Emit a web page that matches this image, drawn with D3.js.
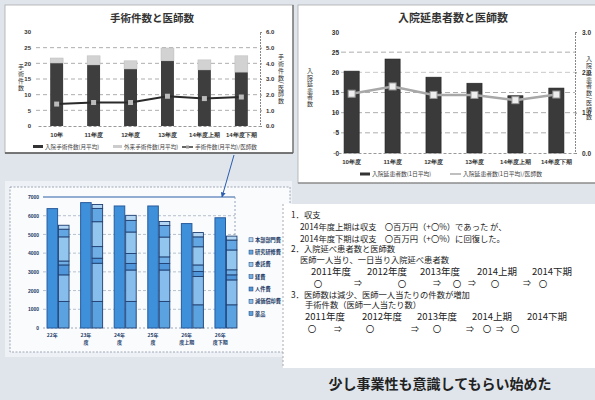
<!DOCTYPE html>
<html><head><meta charset="utf-8">
<script src="https://cdn.jsdelivr.net/npm/d3@7"></script>
<style>
html,body{margin:0;padding:0;background:#dfe5eb;}
svg{display:block;font-family:"Noto Sans CJK JP","Noto Sans",sans-serif;}
</style></head><body>
<svg id="c" width="595" height="400"></svg>
<script>
// ---------- Chart 1: 手術件数と医師数 ----------
const surgCats = ["10年","11年度","12年度","13年度","14年度上期","14年度下期"];
const inpatientSurg = [20.1,19.5,18.2,20.8,17.9,17.2];
const outpatientSurg = [1.6,2.9,2.6,4.1,3.2,5.2];
const surgPerDoctor = [1.4,1.5,1.5,1.9,1.75,1.85];
const surgLeftTicks = [0,5,10,15,20,25,30];
const surgRightTicks = [0,1,2,3,4,5,6];
const surgLegend = ["入院手術件数(月平均)","外来手術件数(月平均)","手術件数(月平均)/医師数"];

// ---------- Chart 2: 入院延患者数と医師数 ----------
const dayCats = ["10年度","11年度","12年度","13年度","14年度上期","14年度下期"];
const inpatientDays = [20.3,23.3,18.8,17.3,14.2,16.1];
const daysPerDoctor = [1.47,1.65,1.44,1.44,1.31,1.45];
const dayLeftTicks = [0,5,10,15,20,25,30];
const dayRightTicks = [0,1,2,3];
const dayLegend = ["入院延患者数(1日平均)","入院延患者数(1日平均)/医師数"];

// ---------- Chart 3: 収益・費用 ----------
const finCats = ["22年","23年度","24年度","25年度","26年度上期","26年度下期"];
const revenue = [6380,6700,6520,6520,5580,5890];
const expKeys = ["薬品","減価償却費","人件費","経費","委託費","研究研修費","本部部門費"]; // bottom -> top
const expDrug = [1420,1420,1420,1420,1240,1240];
const expDepr = [1420,2040,1680,1680,1510,1330];
const expStaff = [530,270,350,350,270,270];
const expGeneral = [210,620,530,350,350,270];
const expOutsource = [1290,1330,1150,1060,970,1060];
const expTraining = [410,710,620,620,530,530];
const expHQ = [210,210,270,210,230,210];
const finTicks = [0,1000,2000,3000,4000,5000,6000,7000];

// ---------- Text ----------
const memoLines = [
  "1．収支",
  "2014年度上期は収支　〇百万円（+〇%）であった が、",
  "2014年度下期は収支　〇百万円（+〇%）に回復した。",
  "2．入院延べ患者数と医師数",
  "医師一人当り、一日当り入院延べ患者数",
  "3．医師数は減少、医師一人当たりの件数が増加",
  "手術件数（医師一人当たり数）"
];
const yearLabels1 = ["2011年度","2012年度","2013年度","2014上期","2014下期"];
const yearLabels2 = ["2011年度","2012年度","2013年度","2014上期","2014下期"];
const footer = "少し事業性も意識してもらい始めた";

const svg = d3.select("#c");
svg.append("rect").attr("width",595).attr("height",400).attr("fill","#dfe5eb");

function vtext(g, str, x, y0, size, ls, fill){
  g.append("text").attr("x",x).attr("y",y0).attr("writing-mode","vertical-rl")
    .style("writing-mode","vertical-rl").attr("letter-spacing",ls)
    .attr("font-size",size).attr("fill",fill||"#333").text(str);
}

// ===== Panel 1 =====
{
  const g = svg.append("g");
  g.append("rect").attr("x",5).attr("y",5).attr("width",288).attr("height",148).attr("fill","#fff")
    .attr("stroke","#aaa").attr("stroke-width",0.8);
  g.append("line").attr("x1",5).attr("x2",293).attr("y1",153).attr("y2",153).attr("stroke","#555").attr("stroke-width",1.5);
  g.append("line").attr("x1",293).attr("x2",293).attr("y1",5).attr("y2",153).attr("stroke","#666").attr("stroke-width",1.2);
  g.append("text").attr("x",152).attr("y",22).attr("text-anchor","middle").attr("font-size",10.5)
    .attr("font-weight","bold").attr("fill","#333").text("手術件数と医師数");

  const x = d3.scaleBand().domain(surgCats).range([38,260]).paddingInner(0.65).paddingOuter(0.33);
  const y = d3.scaleLinear().domain([0,30]).range([126,32]);
  const yr = d3.scaleLinear().domain([0,6]).range([126,32]);

  g.selectAll(".grid").data(surgLeftTicks.filter(d=>d>0 && d<30)).join("line")
    .attr("x1",36).attr("x2",260).attr("y1",d=>y(d)).attr("y2",d=>y(d))
    .attr("stroke","#999").attr("stroke-width",0.8).attr("stroke-dasharray","4,3");

  g.selectAll(".b1").data(surgCats).join("rect")
    .attr("x",d=>x(d)).attr("width",x.bandwidth())
    .attr("y",(d,i)=>y(inpatientSurg[i])).attr("height",(d,i)=>y(0)-y(inpatientSurg[i]))
    .attr("fill","#3e3e3e");
  g.selectAll(".b2").data(surgCats).join("rect")
    .attr("x",d=>x(d)).attr("width",x.bandwidth())
    .attr("y",(d,i)=>y(inpatientSurg[i]+outpatientSurg[i]))
    .attr("height",(d,i)=>y(inpatientSurg[i])-y(inpatientSurg[i]+outpatientSurg[i]))
    .attr("fill","#d2d2d2").attr("stroke","#bbb").attr("stroke-width",0.5);

  const ax = g.append("g").attr("transform","translate(36,0)")
    .call(d3.axisLeft(y).tickValues(surgLeftTicks).tickSize(0).tickPadding(5));
  ax.select(".domain").remove();
  ax.selectAll("text").attr("font-size",6).attr("font-weight","bold").attr("fill","#333");

  const axr = g.append("g").attr("transform","translate(260,0)")
    .call(d3.axisRight(yr).tickValues(surgRightTicks).tickFormat(d3.format(".1f")).tickSize(2).tickPadding(4));
  axr.select(".domain").attr("stroke","#888").attr("stroke-dasharray","2,1");
  axr.selectAll("line").attr("stroke","#888");
  axr.selectAll("text").attr("font-size",6).attr("font-weight","bold").attr("fill","#333");

  const axb = g.append("g").attr("transform","translate(0,126)")
    .call(d3.axisBottom(x).tickSize(0).tickPadding(7));
  axb.select(".domain").attr("stroke","#999").attr("stroke-dasharray","3,2");
  axb.selectAll("text").attr("font-size",6).attr("font-weight","bold").attr("fill","#333");

  const line = d3.line().x((d,i)=>x(surgCats[i])+x.bandwidth()/2).y(d=>yr(d));
  g.append("path").datum(surgPerDoctor).attr("d",line).attr("fill","none").attr("stroke","#2a2a2a").attr("stroke-width",2);
  g.selectAll(".m").data(surgPerDoctor).join("rect")
    .attr("x",(d,i)=>x(surgCats[i])+x.bandwidth()/2-2.5).attr("y",d=>yr(d)-2.5)
    .attr("width",5).attr("height",5).attr("fill","#bbb");

  vtext(g,"手術件数",21,64,6,1);
  vtext(g,"手術件数/医師数",281,54,6,0.8);

  // legend
  const ly = 147;
  g.append("rect").attr("x",33).attr("y",ly-2).attr("width",10).attr("height",3).attr("fill","#333");
  g.append("text").attr("x",45).attr("y",ly+2).attr("font-size",5.6).attr("fill","#444").text(surgLegend[0]);
  g.append("rect").attr("x",113).attr("y",ly-2).attr("width",9).attr("height",3).attr("fill","#ccc");
  g.append("text").attr("x",124).attr("y",ly+2).attr("font-size",5.6).attr("fill","#444").text(surgLegend[1]);
  g.append("line").attr("x1",182).attr("x2",193).attr("y1",ly).attr("y2",ly).attr("stroke","#333").attr("stroke-width",1.5);
  g.append("rect").attr("x",186).attr("y",ly-1.5).attr("width",3).attr("height",3).attr("fill","#999");
  g.append("text").attr("x",195).attr("y",ly+2).attr("font-size",5.6).attr("fill","#444").text(surgLegend[2]);
}

// ===== Panel 2 =====
{
  const g = svg.append("g");
  g.append("rect").attr("x",298).attr("y",5).attr("width",300).attr("height",178).attr("fill","#fff")
    .attr("stroke","#aaa").attr("stroke-width",0.8);
  g.append("line").attr("x1",298).attr("x2",598).attr("y1",183).attr("y2",183).attr("stroke","#777").attr("stroke-width",1.2);
  g.append("text").attr("x",453).attr("y",22).attr("text-anchor","middle").attr("font-size",11)
    .attr("font-weight","bold").attr("fill","#333").text("入院延患者数と医師数");

  const x = d3.scaleBand().domain(dayCats).range([333,575]).paddingInner(0.63).paddingOuter(0.27);
  const y = d3.scaleLinear().domain([0,30]).range([153,32]);
  const yr = d3.scaleLinear().domain([0,3]).range([153,32]);

  g.selectAll(".grid").data(dayLeftTicks.filter(d=>d>0 && d<30)).join("line")
    .attr("x1",333).attr("x2",575).attr("y1",d=>y(d)).attr("y2",d=>y(d))
    .attr("stroke",d=>d===20?"#bbb":"#999").attr("stroke-width",0.8).attr("stroke-dasharray","5,3");

  g.selectAll(".b").data(dayCats).join("rect")
    .attr("x",d=>x(d)).attr("width",x.bandwidth())
    .attr("y",(d,i)=>y(inpatientDays[i])).attr("height",(d,i)=>y(0)-y(inpatientDays[i]))
    .attr("fill","#3a3a3a").attr("stroke","#222").attr("stroke-width",0.6);

  const ax = g.append("g").attr("transform","translate(342,0)")
    .call(d3.axisLeft(y).tickValues(dayLeftTicks).tickSize(0).tickPadding(3));
  ax.select(".domain").remove();
  ax.selectAll("text").attr("font-size",6.5).attr("font-weight","bold").attr("fill","#333");

  const axr = g.append("g").attr("transform","translate(575,0)")
    .call(d3.axisRight(yr).tickValues(dayRightTicks).tickSize(2).tickPadding(5));
  axr.select(".domain").attr("stroke","#888").attr("stroke-dasharray","2,1");
  axr.selectAll("line").attr("stroke","#888");
  axr.selectAll("text").attr("font-size",6.5).attr("font-weight","bold").attr("fill","#333");

  const axb = g.append("g").attr("transform","translate(0,153)")
    .call(d3.axisBottom(x).tickSize(0).tickPadding(7));
  axb.select(".domain").attr("stroke","#999").attr("stroke-dasharray","3,2");
  axb.selectAll("text").attr("font-size",6).attr("font-weight","bold").attr("fill","#333");

  const line = d3.line().x((d,i)=>x(dayCats[i])+x.bandwidth()/2).y(d=>yr(d));
  g.append("path").datum(daysPerDoctor).attr("d",line).attr("fill","none").attr("stroke","#a8a8a8").attr("stroke-width",2.5);
  g.selectAll(".m").data(daysPerDoctor).join("rect")
    .attr("x",(d,i)=>x(dayCats[i])+x.bandwidth()/2-3.5).attr("y",d=>yr(d)-3.5)
    .attr("width",7).attr("height",7).attr("fill","#eee").attr("stroke","#999").attr("stroke-width",1);

  vtext(g,"入院延患者数",310,68,6,0.5);
  vtext(g,"入院延患者数/医師数",589,56,6,0.8);

  const ly = 174;
  g.append("rect").attr("x",360).attr("y",ly-1.5).attr("width",10).attr("height",3).attr("fill","#333");
  g.append("text").attr("x",372).attr("y",ly+2).attr("font-size",5.8).attr("fill","#444").text(dayLegend[0]);
  g.append("line").attr("x1",450).attr("x2",461).attr("y1",ly).attr("y2",ly).attr("stroke","#aaa").attr("stroke-width",1.5);
  g.append("text").attr("x",463).attr("y",ly+2).attr("font-size",5.8).attr("fill","#444").text(dayLegend[1]);
}

// ===== Panel 3 =====
{
  const g = svg.append("g");
  g.append("rect").attr("x",5).attr("y",181).attr("width",287).attr("height",176).attr("fill","#eef2f6");
  g.append("rect").attr("x",10).attr("y",187).attr("width",280).attr("height",165).attr("fill","#f9fbfd")
    .attr("stroke","#8a96a6").attr("stroke-width",0.8).attr("stroke-dasharray","2,1.5");

  const x0 = d3.scaleBand().domain(finCats).range([41,243]).paddingInner(0.345).paddingOuter(0.18);
  const x1 = d3.scaleBand().domain(["rev","exp"]).range([0,x0.bandwidth()]).paddingInner(0.08);
  const y = d3.scaleLinear().domain([0,7000]).range([328,197]);

  g.selectAll(".grid").data(finTicks.filter(d=>d>0 && d<7000)).join("line")
    .attr("x1",43).attr("x2",235).attr("y1",d=>y(d)).attr("y2",d=>y(d))
    .attr("stroke","#9aa7b8").attr("stroke-width",0.7).attr("stroke-dasharray","3,2");
  g.append("line").attr("x1",43).attr("x2",235).attr("y1",y(7000)).attr("y2",y(7000)).attr("stroke","#2d5fa8").attr("stroke-width",1.2);
  g.append("line").attr("x1",235).attr("x2",235).attr("y1",y(7000)).attr("y2",y(0)).attr("stroke","#7f8fa5").attr("stroke-width",0.8).attr("stroke-dasharray","2,2");
  g.append("line").attr("x1",43).attr("x2",235).attr("y1",y(0)).attr("y2",y(0)).attr("stroke","#8a96a6").attr("stroke-width",0.8).attr("stroke-dasharray","2,2");

  g.selectAll(".rev").data(finCats).join("rect")
    .attr("x",d=>x0(d)+x1("rev")).attr("width",x1.bandwidth())
    .attr("y",(d,i)=>y(revenue[i])).attr("height",(d,i)=>y(0)-y(revenue[i]))
    .attr("fill","#3f90da").attr("stroke","#285b9c").attr("stroke-width",1);

  const expRows = finCats.map((c,i)=>({cat:c,"薬品":expDrug[i],"減価償却費":expDepr[i],"人件費":expStaff[i],
    "経費":expGeneral[i],"委託費":expOutsource[i],"研究研修費":expTraining[i],"本部部門費":expHQ[i]}));
  const stack = d3.stack().keys(expKeys)(expRows);
  const segColor = d3.scaleOrdinal().domain(expKeys)
    .range(["#5ba2e0","#86bdec","#4f97da","#6fafe6","#93c6ef","#62a7e3","#b2d6f3"]);
  g.selectAll(".ser").data(stack).join("g").attr("fill",d=>segColor(d.key))
    .selectAll("rect").data(d=>d).join("rect")
    .attr("x",d=>x0(d.data.cat)+x1("exp")).attr("width",x1.bandwidth())
    .attr("y",d=>y(d[1])).attr("height",d=>y(d[0])-y(d[1]))
    .attr("stroke","#1f3f70").attr("stroke-width",0.9);

  const ax = g.append("g").attr("transform","translate(41,0)")
    .call(d3.axisLeft(y).tickValues(finTicks).tickFormat(d3.format("d")).tickSize(0).tickPadding(2));
  ax.select(".domain").remove();
  ax.selectAll("text").attr("font-size",5).attr("font-weight","bold").attr("fill","#223a66");

  finCats.forEach(c=>{
    const chunks = c.match(/.{1,3}/gu);
    const cx = x0(c)+x1("rev")+x1.bandwidth()/2;
    chunks.forEach((t,j)=>{
      g.append("text").attr("x",cx).attr("y",337+j*6.5).attr("text-anchor","middle")
        .attr("font-size",5).attr("font-weight","bold").attr("fill","#223a66").text(t);
    });
  });

  const legendOrder = expKeys.slice().reverse();
  legendOrder.forEach((k,i)=>{
    const ly = 240+i*12.3;
    g.append("rect").attr("x",249).attr("y",ly-2.2).attr("width",4).attr("height",4)
      .attr("fill",segColor(k)).attr("stroke","#1f3f70").attr("stroke-width",0.5);
    g.append("text").attr("x",255).attr("y",ly+1.8).attr("font-size",5.2).attr("font-weight","bold")
      .attr("fill","#223a66").text(k);
  });

  // arrow
  const defs = svg.append("defs");
  defs.append("marker").attr("id","ah").attr("viewBox","0 0 10 10").attr("refX",9).attr("refY",5)
    .attr("markerWidth",5).attr("markerHeight",5).attr("orient","auto")
    .append("path").attr("d","M0,0L10,5L0,10z").attr("fill","#2a5db0");
  svg.append("line").attr("x1",234).attr("y1",155).attr("x2",222).attr("y2",197)
    .attr("stroke","#2a5db0").attr("stroke-width",1).attr("marker-end","url(#ah)");
}

// ===== Text box =====
{
  const g = svg.append("g");
  g.append("rect").attr("x",283).attr("y",204).attr("width",315).attr("height",164).attr("fill","#fff");
  g.append("line").attr("x1",283).attr("x2",283).attr("y1",204).attr("y2",368).attr("stroke","#aaa").attr("stroke-dasharray","2,2");
  const tl = [
    [memoLines[0],291,214],[memoLines[1],300,226],[memoLines[2],300,237.5],
    [memoLines[3],291,248],[memoLines[4],300,258.5],[memoLines[5],291,293.5],[memoLines[6],305,304]
  ];
  tl.forEach(([t,x,y])=>g.append("text").attr("x",x).attr("y",y).attr("dominant-baseline","central")
    .attr("font-size",8.3).attr("fill","#222").text(t));
  const yx1 = [311,367,420,477,532];
  yearLabels1.forEach((t,i)=>g.append("text").attr("x",yx1[i]).attr("y",270.5).attr("dominant-baseline","central")
    .attr("font-size",9.5).attr("fill","#222").text(t));
  const yx2 = [305,362,417,472,527];
  yearLabels2.forEach((t,i)=>g.append("text").attr("x",yx2[i]).attr("y",316).attr("dominant-baseline","central")
    .attr("font-size",9.5).attr("fill","#222").text(t));
  const arr1 = [["〇",318],["⇒",358],["〇",402],["⇒",437],["〇",457],["⇒",472],["〇",495],["⇒",527],["〇",543]];
  arr1.forEach(([t,x])=>g.append("text").attr("x",x).attr("y",282.5).attr("dominant-baseline","central")
    .attr("text-anchor","middle").attr("font-size",t==="〇"?8.5:8).attr("fill","#222").text(t));
  const arr2 = [["〇",312],["⇒",338],["〇",370],["⇒",415],["〇",437],["⇒",470],["〇",487],["⇒",500],["〇",515]];
  arr2.forEach(([t,x])=>g.append("text").attr("x",x).attr("y",328).attr("dominant-baseline","central")
    .attr("text-anchor","middle").attr("font-size",t==="〇"?8.5:8).attr("fill","#222").text(t));

  svg.append("text").attr("x",440).attr("y",383).attr("dominant-baseline","central").attr("text-anchor","middle")
    .attr("font-size",14).attr("font-weight","bold").attr("fill","#222").text(footer);
}
</script>
</body></html>
